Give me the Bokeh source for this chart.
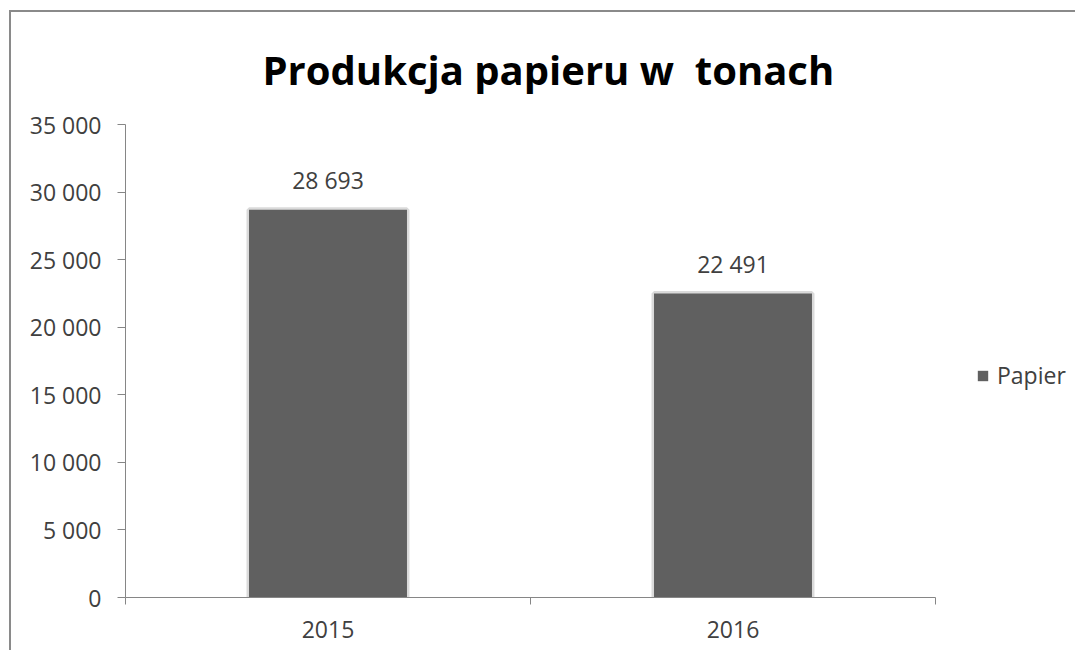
from bokeh.plotting import figure
from bokeh.models import (ColumnDataSource, Range1d, LinearAxis,
                          FixedTicker, Legend, LegendItem, Title)
from bokeh.embed import file_html
from bokeh.resources import INLINE

years = ["2015", "2016"]
values = [28693, 22491]
value_labels = ["28 693", "22 491"]
y_ticks = [0, 5000, 10000, 15000, 20000, 25000, 30000, 35000]
y_tick_labels = ["0", "5 000", "10 000", "15 000", "20 000", "25 000", "30 000", "35 000"]
series_name = "Papier"
title_text = "Produkcja papieru w  tonach"

FONT = "Open Sans"
TXT = "#404040"
AX = "#868686"
BAR = "#606060"

W, H = 1066, 640
MB_LEFT = 114
CAT_PX = 405  # pixel width of one category slot
n = len(years)
frame_w = W - MB_LEFT
x_end = frame_w / CAT_PX
centers = [i + 0.5 for i in range(n)]
edges = list(range(n + 1))
src = ColumnDataSource(dict(x=centers, top=values, lab=value_labels))

p = figure(width=W, height=H, x_range=Range1d(0, x_end),
           y_range=Range1d(0, 35000), output_backend="svg", toolbar_location=None,
           x_axis_location=None, min_border_left=MB_LEFT, min_border_right=0,
           min_border_top=112, min_border_bottom=55)
p.styles = {"border-left": "2px solid #8a8a8a", "border-top": "2px solid #8a8a8a",
            "margin-left": "9px", "margin-top": "10px"}
p.grid.visible = False
p.outline_line_color = None
p.background_fill_color = "white"
p.border_fill_color = "white"

# y axis
ya = p.yaxis[0]
ya.ticker = FixedTicker(ticks=y_ticks)
ya.major_label_overrides = {t: l for t, l in zip(y_ticks, y_tick_labels)}
ya.axis_line_color = AX
ya.major_tick_line_color = AX
ya.major_tick_in = 0
ya.major_tick_out = 8
ya.minor_tick_line_color = None
ya.major_label_standoff = 16
ya.major_label_text_font = FONT
ya.major_label_text_font_size = "23px"
ya.major_label_text_color = TXT

# x axis: boundary ticks (no labels), line limited to the categories
tick_axis = LinearAxis(ticker=FixedTicker(ticks=edges), bounds=(0, n),
                       major_label_overrides={e: "" for e in edges},
                       major_label_text_font_size="1px", major_tick_in=0, major_tick_out=7,
                       minor_tick_line_color=None, axis_line_color=AX, major_tick_line_color=AX,
                       major_label_standoff=0)
p.add_layout(tick_axis, "below")
# x axis: category labels at centres
lab_axis = LinearAxis(ticker=FixedTicker(ticks=centers),
                      major_label_overrides={c: y for c, y in zip(centers, years)},
                      axis_line_color=None, major_tick_line_color=None, minor_tick_line_color=None,
                      major_label_text_font=FONT, major_label_text_font_size="23px",
                      major_label_text_color=TXT, major_label_standoff=10)
p.add_layout(lab_axis, "below")

# bars
p.vbar(x="x", top="top", width=0.39, source=src, fill_color=None,
       line_color="#dadada", line_width=5)
bars = p.vbar(x="x", top="top", width=0.39, source=src, fill_color=BAR, line_color=None)

p.text(x="x", y="top", text="lab", source=src, text_align="center", text_baseline="bottom",
       y_offset=-14, text_font={"value": FONT}, text_font_size={"value": "23px"},
       text_color=TXT)

legend = Legend(items=[LegendItem(label=series_name, renderers=[bars])],
                location=(851, 206), padding=0, margin=0, border_line_color=None,
                background_fill_color=None, glyph_width=13, glyph_height=13,
                label_standoff=8, label_text_font=FONT, label_text_font_size="23px",
                label_text_color=TXT)
p.add_layout(legend, "center")

shown_title = title_text.replace("  ", " \u00a0")
p.add_layout(Title(text=shown_title, align="left", offset=137, standoff=55,
                   text_font=FONT, text_font_style="bold", text_font_size="40px",
                   text_color="black"), "above")

open("out.html", "w").write(file_html(p, INLINE))
